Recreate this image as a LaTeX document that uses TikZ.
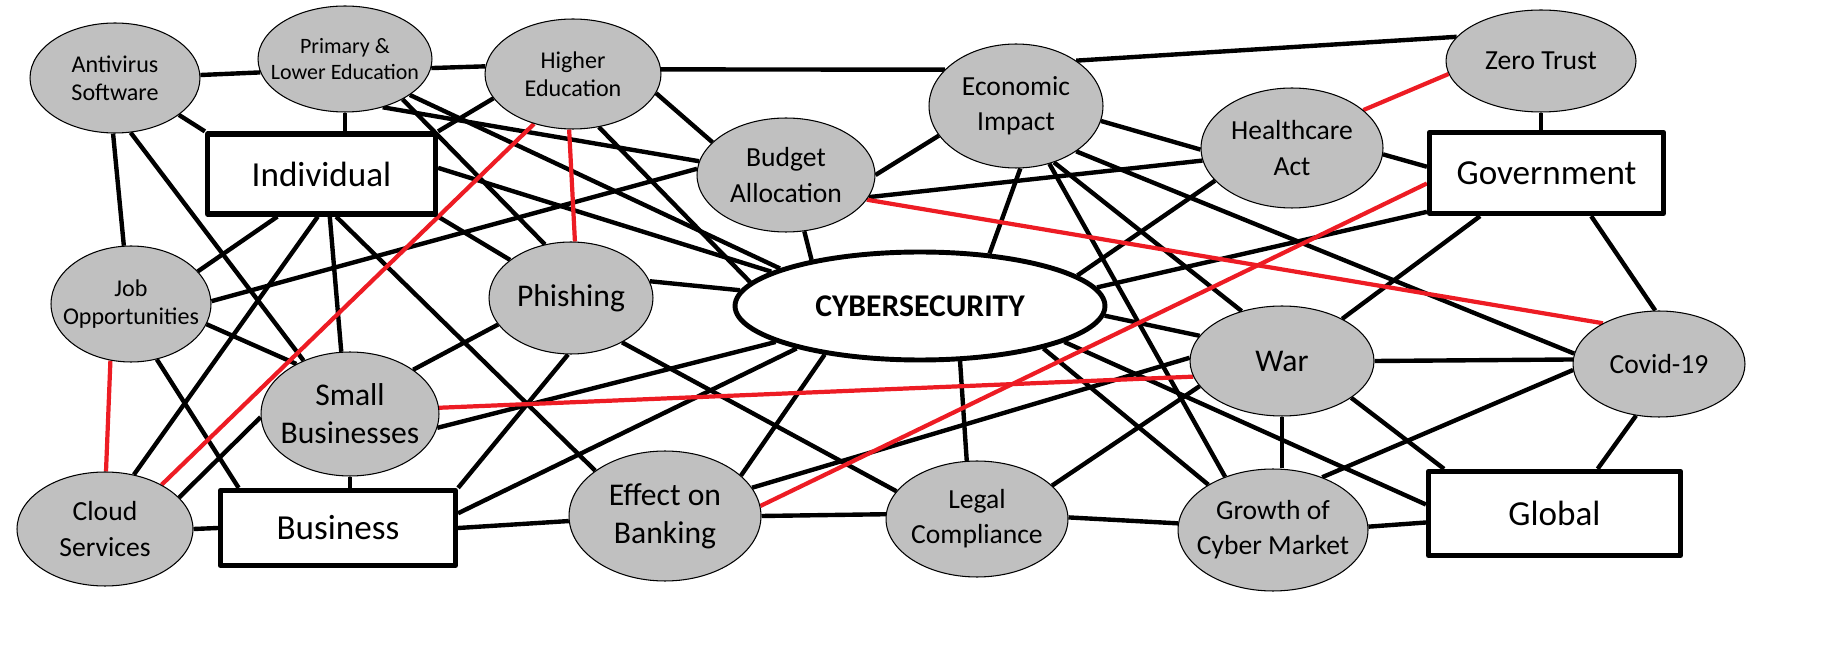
\documentclass[tikz,border=0pt]{standalone}
\usepackage{fontspec}
\setmainfont{Carlito}
\usetikzlibrary{shapes.geometric,backgrounds}
\definecolor{nodegray}{RGB}{192,192,192}
\definecolor{linkred}{RGB}{237,28,36}
\newcommand\tpbox{\fontsize{20}{24}\selectfont}
\newcommand\tpbig{\fontsize{18}{21.5}\selectfont}
\newcommand\tpmid{\fontsize{15.7}{20}\selectfont}
\newcommand\tpsmall{\fontsize{13.7}{16}\selectfont}
\newcommand\tptiny{\fontsize{12.5}{15.2}\selectfont}
\tikzset{
  topic/.style 2 args={ellipse, draw=black, line width=0.6pt, fill=nodegray, inner sep=0pt, minimum width=#1cm, minimum height=#2cm},
  sector/.style 2 args={rectangle, draw=black, line width=3pt, fill=white, inner sep=0pt, minimum width=#1cm, minimum height=#2cm, font=\tpbox},
  txt/.style={align=center, inner sep=0pt},
  link/.style={line width=2.5pt, black},
  redlink/.style={line width=2.4pt, linkred},
}
\begin{document}
\begin{tikzpicture}[x=0.02cm, y=-0.02cm, line join=round]
	\useasboundingbox (0,0) rectangle (1840,648);
	% sectors
	\node[sector={4.56}{1.6}] (ind) at (321.5,174) {Individual};
	\node[sector={4.68}{1.62}] (gov) at (1546.5,173) {Government};
	\node[sector={4.7}{1.5}] (bus) at (338,528) {Business};
	\node[sector={5.04}{1.68}] (glo) at (1554.5,513.5) {Global};
	% topics
	\node[topic={3.4}{2.2}, label={[txt,font=\tpsmall]center:Antivirus\\Software}] (av) at (115,78) {};
	\node[topic={3.48}{2.12}, label={[txt,font=\tptiny]center:Primary \&\\Lower Education}] (pe) at (345,59) {};
	\node[topic={3.52}{2.2}, label={[txt,font=\tpsmall]center:Higher\\Education}] (he) at (573,74) {};
	\node[topic={3.56}{2.28}, label={[txt,font=\tpmid]center:Budget\\Allocation}] (ba) at (786,175) {};
	\node[topic={3.48}{2.48}, label={[txt,font=\tpmid]center:Economic\\Impact}] (ei) at (1016,106) {};
	\node[topic={3.8}{2.04}, label={[txt,font=\tpmid]center:Zero Trust}] (zt) at (1541,61) {};
	\node[topic={3.64}{2.4}, label={[txt,font=\tpmid]center:Healthcare\\Act}] (hc) at (1292,148) {};
	\node[topic={3.2}{2.32}, label={[txt,font=\tpsmall]center:Job\\Opportunities}] (job) at (131,304) {};
	\node[topic={3.28}{2.24}, label={[txt,font=\tpbig]center:Phishing}] (ph) at (571,298) {};
	\node[ellipse, draw=black, line width=2.8pt, fill=white, inner sep=0pt, minimum width=7.4cm, minimum height=2.16cm, font=\tpbig\bfseries] (cy) at (920,306) {CYBERSECURITY};
	\node[topic={3.68}{2.2}, label={[txt,font=\tpbig]center:War}] (war) at (1282,361) {};
	\node[topic={3.44}{2.12}, label={[txt,font=\tpmid]center:Covid-19}] (cov) at (1659,364) {};
	\node[topic={3.56}{2.48}, label={[txt,font=\tpbig]center:Small\\Businesses}] (sb) at (350,414) {};
	\node[topic={3.52}{2.28}, label={[txt,font=\tpmid]center:Cloud\\Services}] (cl) at (105,529) {};
	\node[topic={3.84}{2.6}, label={[txt,font=\tpbig]center:Effect on\\Banking}] (eb) at (665,516) {};
	\node[topic={3.64}{2.32}, label={[txt,font=\tpmid]center:Legal\\Compliance}] (lc) at (977,519) {};
	\node[topic={3.8}{2.44}, label={[txt,font=\tpmid]center:Growth of\\Cyber Market}] (gc) at (1273,530) {};
	% links
	\begin{scope}[on background layer]
	\draw[link] (av.2) -- (pe.189);
	\draw[link] (pe.-6) -- (he.175);
	\draw[link] (he.3) -- (ei.153);
	\draw[link] (ei.37) -- (zt.164);
	\draw[link] (av.-30) -- (ind.north west);
	\draw[link] (pe.south) -- (pe.south |- ind.north);
	\draw[link] (av.-92) -- (job.97);
	\draw[link] (av.-74) -- (sb.131);
	\draw[link] (ind.-136) -- (job.26);
	\draw[link] (ind.-95) -- (cl.62);
	\draw[link] (ind.-79) -- (sb.98);
	\draw[link] (ind.-71) -- (eb.147);
	\draw[link] (ind.south east) -- (ph.148);
	\draw[link] (ind.3) -- (cy.167);
	\draw[link] (ind.north east) -- (he.197);
	\draw[link] (he.-13) -- (ba.156);
	\draw[link] (he.-64) -- (cy.172);
	\draw[link] (pe.-52) -- (ba.171);
	\draw[link] (pe.-29) -- (cy.165);
	\draw[link] (pe.-35) -- (ph.116);
	\draw[link] (job.2) -- (ba.176);
	\draw[link] (job.-15) -- (sb.137);
	\draw[link] (job.-65) -- (bus.158);
	\draw[link] (sb.182) -- (cl.23);
	\draw[link] (sb.south) -- (sb.south |- bus.north);
	\draw[link] (sb.35) -- (ph.200);
	\draw[link] (sb.-9) -- (cy.194);
	\draw[link] (cl.east) -- (bus.west);
	\draw[link] (bus.north east) -- (ph.-93);
	\draw[link] (bus.7) -- (cy.199);
	\draw[link] (bus.east) -- (eb.183);
	\draw[link] (ph.12) -- (cy.175);
	\draw[link] (ph.-41) -- (lc.161);
	\draw[link] (eb.28) -- (cy.207);
	\draw[link] (eb.18) -- (war.178);
	\draw[link] (eb.0) -- (lc.177);
	\draw[link] (ba.-72) -- (cy.157);
	\draw[link] (ba.0) -- (ei.201);
	\draw[link] (ba.-15) -- (hc.188);
	\draw[link] (ei.-86) -- (cy.37);
	\draw[link] (ei.-10) -- (hc.181);
	\draw[link] (ei.-37) -- (cov.173);
	\draw[link] (ei.-56) -- (war.129);
	\draw[link] (ei.-60) -- (gc.132);
	\draw[link] (hc.203) -- (cy.11);
	\draw[link] (hc.-4) -- (gov.177);
	\draw[link] (zt.south) -- (zt.south |- gov.north);
	\draw[link] (gov.198) -- (cy.6);
	\draw[link] (gov.213) -- (war.35);
	\draw[link] (gov.-44) -- (cov.94);
	\draw[link] (cy.-3) -- (war.163);
	\draw[link] (cy.-19) -- (gc.145);
	\draw[link] (cy.-14) -- (glo.176);
	\draw[link] (cy.-54) -- (lc.100);
	\draw[link] (war.0) -- (cov.177);
	\draw[link] (war.south) -- (war.south |- gc.north);
	\draw[link] (war.-28) -- (glo.158);
	\draw[link] (war.197) -- (lc.24);
	\draw[link] (cov.184) -- (gc.47);
	\draw[link] (cov.-114) -- (glo.46);
	\draw[link] (gc.2) -- (glo.184);
	\draw[link] (lc.1) -- (gc.176);
	% red links
	\draw[redlink] (he.232) -- (cl.38);
	\draw[redlink] (he.-94) -- (ph.86);
	\draw[redlink] (job.-110) -- (cl.89);
	\draw[redlink] (sb.4) -- (war.190);
	\draw[redlink] (eb.6) -- (gov.185);
	\draw[redlink] (ba.-17) -- (cov.144);
	\draw[redlink] (hc.28) -- (zt.188);
	\end{scope}
\end{tikzpicture}
\end{document}
